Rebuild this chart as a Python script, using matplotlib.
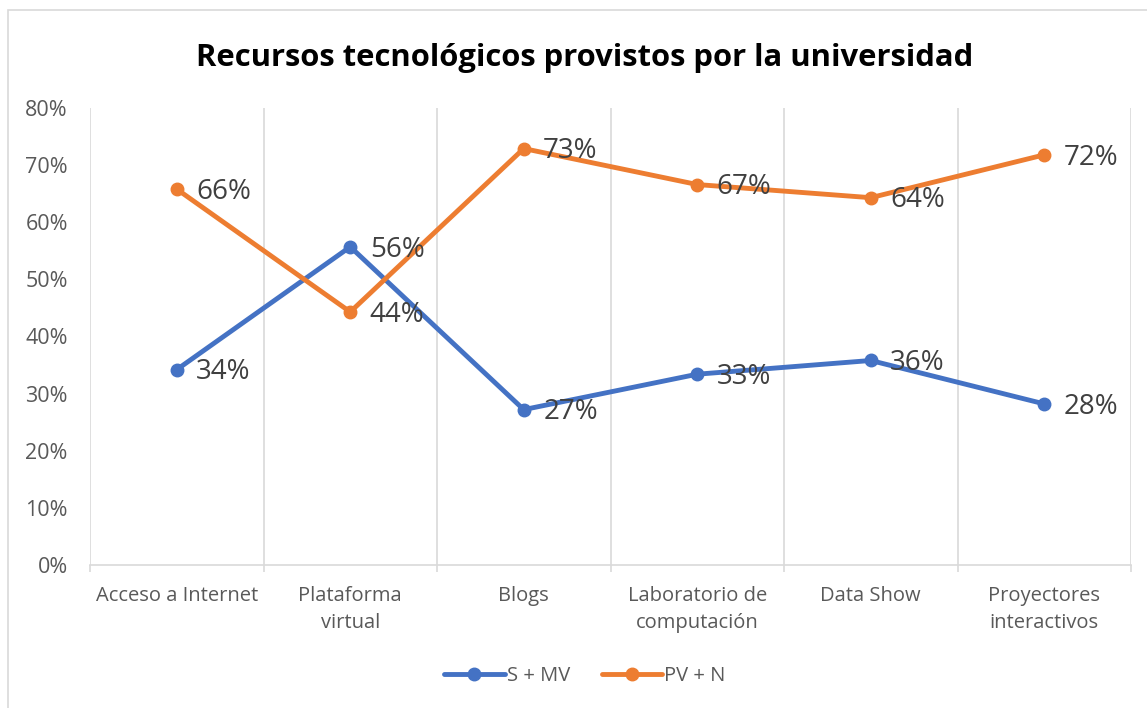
import numpy as np
import matplotlib
matplotlib.use('Agg')
from matplotlib import pyplot as plt
from matplotlib.patches import Rectangle
from matplotlib.ticker import FixedLocator, PercentFormatter

plt.rcParams['font.family'] = ['Open Sans', 'DejaVu Sans']

categories = ['Acceso a Internet', 'Plataforma\nvirtual', 'Blogs',
              'Laboratorio de\ncomputación', 'Data Show', 'Proyectores\ninteractivos']
s_mv = [34.2, 55.7, 27.2, 33.4, 35.8, 28.2]
pv_n = [65.8, 44.3, 72.9, 66.6, 64.3, 71.8]
series_names = ['S + MV', 'PV + N']
colors = ['#4472C4', '#ED7D31']

TEXT_GRAY = '#595959'
LABEL_GRAY = '#404040'
GRID = '#D9D9D9'

fig = plt.figure(figsize=(11.47, 7.08), dpi=100)
ax = fig.add_axes([90/1147, (708-565)/708, (1131-90)/1147, (565-108)/708])

# chart border
fig.patches.append(Rectangle((8/1147, -0.1), 1.2, (708-10)/708 + 0.1,
                             transform=fig.transFigure, fill=False,
                             edgecolor=GRID, linewidth=1.2))

x = np.arange(len(categories))
for vals, name, c in zip([s_mv, pv_n], series_names, colors):
    ax.plot(x, vals, color=c, linewidth=3.5, marker='o', markersize=9,
            solid_capstyle='round', label=name, zorder=3)
    for xi, v in zip(x, vals):
        ax.annotate('{:.0f}%'.format(v), (xi, v), xytext=(14, -2),
                    textcoords='offset points', ha='left', va='center',
                    fontsize=20, color=LABEL_GRAY, zorder=4)

ax.set_xlim(-0.5, len(categories) - 0.5)
ax.set_ylim(0, 80)
ax.yaxis.set_major_locator(FixedLocator(np.arange(0, 81, 10)))
ax.yaxis.set_major_formatter(PercentFormatter(decimals=0))

ax.set_xticks(x)
ax.set_xticklabels(categories, fontsize=14.5, color=TEXT_GRAY, linespacing=1.45)
ax.set_xticks(np.arange(-0.5, len(categories)), minor=True)
ax.tick_params(axis='x', which='major', length=0, pad=15)
ax.tick_params(axis='x', which='minor', length=5, color=GRID, width=1.2)
ax.tick_params(axis='y', length=0, labelsize=15.5, labelcolor=TEXT_GRAY, pad=16)

ax.grid(axis='x', which='minor', color=GRID, linewidth=1.2)
for side in ['top', 'right', 'left']:
    ax.spines[side].set_visible(False)
ax.spines['bottom'].set_color(GRID)
ax.spines['bottom'].set_linewidth(1.2)

fig.text(0.51, 0.918, 'Recursos tecnológicos provistos por la universidad',
         ha='center', va='center', fontsize=22.3, fontweight='bold', color='black')

leg = fig.legend(loc='center', bbox_to_anchor=(0.51, 0.045), ncol=2, frameon=False,
                 fontsize=14.5, handlelength=3.0, handletextpad=0.1, columnspacing=1.6,
                 labelcolor=TEXT_GRAY)

fig.savefig('out.png', dpi=100)
